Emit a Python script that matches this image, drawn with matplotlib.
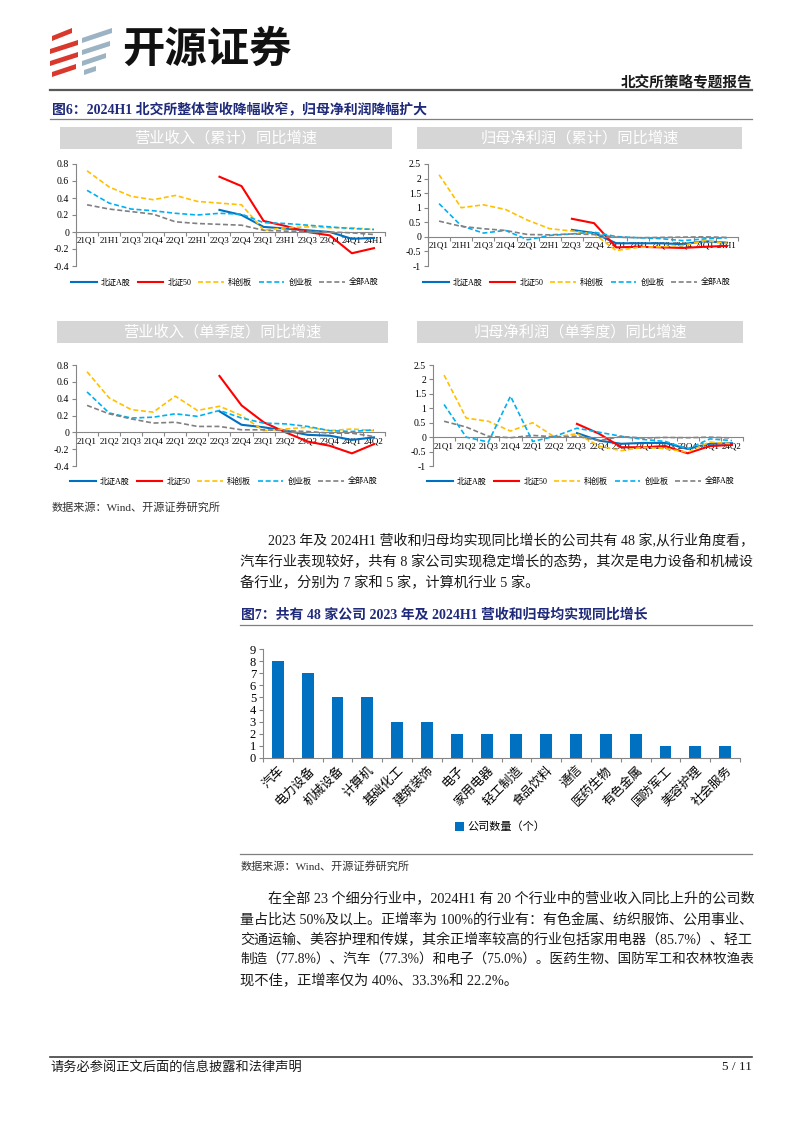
import numpy as np
import matplotlib
matplotlib.use("Agg")
import matplotlib.pyplot as plt
from matplotlib.patches import Rectangle, Polygon

W, H = 802, 1133
FONT = ["Liberation Serif", "Noto Sans CJK SC"]
plt.rcParams["font.family"] = FONT
nan = np.nan

# ---- data ----
cats_cum = ["21Q1", "21H1", "21Q3", "21Q4", "22Q1", "22H1", "22Q3",
            "22Q4", "23Q1", "23H1", "23Q3", "23Q4", "24Q1", "24H1"]
cats_q = ["21Q1", "21Q2", "21Q3", "21Q4", "22Q1", "22Q2", "22Q3",
          "22Q4", "23Q1", "23Q2", "23Q3", "23Q4", "24Q1", "24Q2"]
series_names = ["北证A股", "北证50", "科创板", "创业板", "全部A股"]

# 营业收入（累计）同比增速
rev_cum_bz = [nan] * 6 + [0.26, 0.20, 0.06, 0.04, 0.02, 0.00, -0.08, -0.07]
rev_cum_bz50 = [nan] * 6 + [0.65, 0.54, 0.13, 0.07, 0.00, -0.04, -0.25, -0.19]
rev_cum_kcb = [0.72, 0.53, 0.42, 0.38, 0.43, 0.36, 0.34, 0.32, 0.02, 0.05, 0.06, 0.05, 0.05, 0.03]
rev_cum_cyb = [0.49, 0.34, 0.27, 0.25, 0.22, 0.20, 0.22, 0.21, 0.11, 0.10, 0.08, 0.06, 0.04, 0.03]
rev_cum_all = [0.32, 0.27, 0.24, 0.21, 0.12, 0.10, 0.09, 0.08, 0.02, 0.01, 0.01, 0.00, -0.01, -0.03]

# 归母净利润（累计）同比增速
np_cum_bz = [nan] * 6 + [0.24, 0.13, -0.22, -0.22, -0.22, -0.25, -0.15, -0.20]
np_cum_bz50 = [nan] * 6 + [0.62, 0.47, -0.36, -0.34, -0.36, -0.38, -0.34, -0.31]
np_cum_kcb = [2.13, 1.00, 1.10, 0.94, 0.57, 0.28, 0.20, 0.10, -0.47, -0.36, -0.34, -0.30, -0.13, -0.22]
np_cum_cyb = [1.14, 0.38, 0.13, 0.22, -0.10, 0.05, 0.10, 0.16, 0.01, -0.03, -0.06, -0.13, -0.07, -0.03]
np_cum_all = [0.54, 0.36, 0.28, 0.22, 0.08, 0.07, 0.10, 0.08, -0.01, -0.03, -0.02, -0.01, 0.00, -0.02]

# 营业收入（单季度）同比增速
rev_q_bz = [nan] * 6 + [0.25, 0.09, 0.06, 0.02, -0.03, -0.04, -0.09, -0.06]
rev_q_bz50 = [nan] * 6 + [0.67, 0.32, 0.12, 0.00, -0.11, -0.16, -0.25, -0.14]
rev_q_kcb = [0.72, 0.41, 0.27, 0.24, 0.43, 0.26, 0.31, 0.20, 0.02, 0.04, 0.06, 0.02, 0.04, 0.02]
rev_q_cyb = [0.48, 0.23, 0.17, 0.18, 0.22, 0.19, 0.26, 0.17, 0.11, 0.10, 0.07, 0.02, 0.01, 0.03]
rev_q_all = [0.32, 0.22, 0.16, 0.11, 0.12, 0.07, 0.07, 0.03, 0.03, 0.02, 0.01, -0.01, -0.01, -0.05]

# 归母净利润（单季度）同比增速
np_q_bz = [nan] * 6 + [0.14, -0.12, -0.23, -0.20, -0.20, -0.41, -0.23, -0.21]
np_q_bz50 = [nan] * 6 + [0.46, 0.12, -0.35, -0.35, -0.31, -0.56, -0.31, -0.27]
np_q_kcb = [2.15, 0.66, 0.55, 0.21, 0.50, 0.00, 0.12, -0.31, -0.47, -0.35, -0.40, -0.52, -0.17, -0.23]
np_q_cyb = [1.13, 0.00, -0.17, 1.42, -0.15, 0.03, 0.31, 0.17, 0.03, -0.08, -0.15, -0.41, -0.06, -0.12]
np_q_all = [0.55, 0.35, 0.03, -0.02, 0.06, 0.01, 0.03, -0.12, 0.02, -0.03, -0.01, -0.02, 0.00, -0.03]

# 图7
industries = ["汽车", "电力设备", "机械设备", "计算机", "基础化工", "建筑装饰", "电子", "家用电器",
              "轻工制造", "食品饮料", "通信", "医药生物", "有色金属", "国防军工", "美容护理", "社会服务"]
company_counts = [8, 7, 5, 5, 3, 3, 2, 2, 2, 2, 2, 2, 2, 1, 1, 1]

COLORS = ["#0070C0", "#FF0000", "#FFC000", "#00B0F0", "#808080"]
DASHED = [False, False, True, True, True]
AXC = "#868686"


def rect(x0, y0, x1, y1):
    return [x0 / W, 1 - y1 / H, (x1 - x0) / W, (y1 - y0) / H]


fig = plt.figure(figsize=(W / 100, H / 100), dpi=100)
page = fig.add_axes([0, 0, 1, 1])
page.set_xlim(0, W)
page.set_ylim(H, 0)
page.axis("off")
renderer = fig.canvas.get_renderer()


def body_line(x, y, s, full=True, size=10.3, right=752):
    t = page.text(x, y, s, fontsize=size, va="center", color="#1a1a1a")
    if full:
        w = t.get_window_extent(renderer).width
        t.set_fontsize(size * (right - x) / w)
    return t


# ---- header ----
red_bars = [(52, 36, 72, 28), (50, 49, 78, 40), (50, 61, 78, 52), (52, 72, 76, 64)]
for x0, y0, x1, y1 in red_bars:
    page.add_patch(Polygon([(x0, y0), (x1, y1), (x1, y1 + 5), (x0, y0 + 5)],
                           closed=True, color="#D8392C", lw=0))
blue_bars = [(82, 38, 112, 28), (82, 50, 110, 41), (82, 61, 106, 53), (84, 70, 96, 66)]
for x0, y0, x1, y1 in blue_bars:
    page.add_patch(Polygon([(x0, y0), (x1, y1), (x1, y1 + 5), (x0, y0 + 5)],
                           closed=True, color="#9BB3C2", lw=0))
page.text(122, 50, "开源证券", family="Noto Sans CJK SC", fontweight="bold",
          fontsize=30.5, ha="left", va="center", color="#111111")
page.text(752, 83, "北交所策略专题报告", fontsize=10.5, fontweight="bold",
          ha="right", va="center", color="#1a1a1a")
page.plot([50, 752], [90, 90], color="#595959", lw=1.6)

page.text(52, 110, "图6：2024H1 北交所整体营收降幅收窄，归母净利润降幅扩大",
          fontsize=10, fontweight="bold", color="#1F2A7A", va="center")
page.plot([50, 752], [119, 119], color="#7F7F7F", lw=0.9)


def line_panel(ax_px, box_px, title, cats, series, ylim, yticks, legend_xy):
    x0, y0, x1, y1 = box_px
    page.add_patch(Rectangle((x0, y0), x1 - x0, y1 - y0, color="#D6D6D6", lw=0))
    page.text((x0 + x1) / 2, (y0 + y1) / 2, title, family="Noto Sans CJK SC",
              fontsize=11, color="white", ha="center", va="center")

    ax = fig.add_axes(rect(*ax_px))
    ax.set_facecolor("none")
    x = np.arange(len(cats))
    handles = []
    for vals, name, c, d in zip(series, series_names, COLORS, DASHED):
        if d:
            ln, = ax.plot(x, vals, color=c, lw=1.2, ls=(0, (3, 1.6)), label=name)
        else:
            ln, = ax.plot(x, vals, color=c, lw=1.5, label=name)
        handles.append(ln)
    ax.set_xlim(-0.5, len(cats) - 0.5)
    ax.set_ylim(*ylim)
    ax.set_yticks(yticks)
    ax.set_yticklabels([f"{v:g}" for v in yticks])
    ax.set_xticks(np.arange(-0.5, len(cats), 1))
    ax.set_xticklabels([])
    ax.set_xticks(x, minor=True)
    ax.set_xticklabels(cats, minor=True)
    ax.tick_params(axis="x", which="major", length=3, color=AXC, direction="out")
    ax.tick_params(axis="x", which="minor", length=0, labelsize=6.5, pad=3.5)
    ax.tick_params(axis="y", length=3, color=AXC, labelsize=7, pad=2)
    for s in ["top", "right"]:
        ax.spines[s].set_visible(False)
    ax.spines["bottom"].set_position(("data", 0))
    ax.spines["bottom"].set_color(AXC)
    ax.spines["left"].set_color(AXC)
    ax.spines["bottom"].set_linewidth(0.8)
    ax.spines["left"].set_linewidth(0.8)

    lx, ly = legend_xy
    fig.legend(handles=handles, loc="center", bbox_to_anchor=(lx / W, 1 - ly / H),
               ncol=5, frameon=False, fontsize=5.8, handlelength=3.2,
               handletextpad=0.5, columnspacing=0.85)
    return ax


rev_ticks = [-0.4, -0.2, 0, 0.2, 0.4, 0.6, 0.8]
np_ticks = [-1, -0.5, 0, 0.5, 1, 1.5, 2, 2.5]

line_panel((76, 164, 385, 266), (60, 127, 392, 149), "营业收入（累计）同比增速", cats_cum,
           [rev_cum_bz, rev_cum_bz50, rev_cum_kcb, rev_cum_cyb, rev_cum_all],
           (-0.4, 0.8), rev_ticks, (225, 283))
line_panel((428, 164, 738, 266), (417, 127, 742, 149), "归母净利润（累计）同比增速", cats_cum,
           [np_cum_bz, np_cum_bz50, np_cum_kcb, np_cum_cyb, np_cum_all],
           (-1, 2.5), np_ticks, (577, 283))
line_panel((76, 365, 385, 466), (57, 321, 388, 343), "营业收入（单季度）同比增速", cats_q,
           [rev_q_bz, rev_q_bz50, rev_q_kcb, rev_q_cyb, rev_q_all],
           (-0.4, 0.8), rev_ticks, (224, 482))
line_panel((433, 365, 743, 466), (417, 321, 743, 343), "归母净利润（单季度）同比增速", cats_q,
           [np_q_bz, np_q_bz50, np_q_kcb, np_q_cyb, np_q_all],
           (-1, 2.5), np_ticks, (581, 482))

page.text(52, 507, "数据来源：Wind、开源证券研究所", fontsize=8, color="#333333", va="center")

# ---- paragraph 1 ----
para1 = ["2023 年及 2024H1 营收和归母均实现同比增长的公司共有 48 家,从行业角度看，",
         "汽车行业表现较好，共有 8 家公司实现稳定增长的态势，其次是电力设备和机械设",
         "备行业，分别为 7 家和 5 家，计算机行业 5 家。"]
for i, line in enumerate(para1):
    body_line(268 if i == 0 else 240, 541 + i * 21, line, full=i < len(para1) - 1)

page.text(241, 615, "图7：共有 48 家公司 2023 年及 2024H1 营收和归母均实现同比增长",
          fontsize=10, fontweight="bold", color="#1F2A7A", va="center")
page.plot([240, 752], [625, 625], color="#7F7F7F", lw=0.9)

# ---- bar chart ----
bx = fig.add_axes(rect(263, 649, 740, 758))
bx.set_facecolor("none")
xb = np.arange(len(industries))
bars = bx.bar(xb, company_counts, width=0.4, color="#0070C0", label="公司数量（个）")
bx.set_xlim(-0.5, len(industries) - 0.5)
bx.set_ylim(0, 9)
bx.set_yticks(range(10))
bx.set_xticks(np.arange(-0.5, len(industries), 1))
bx.set_xticklabels([])
bx.set_xticks(xb, minor=True)
bx.set_xticklabels(industries, minor=True, rotation=45, ha="right",
                   rotation_mode="anchor", family="Noto Sans CJK SC")
bx.tick_params(axis="x", which="major", length=3, color=AXC)
bx.tick_params(axis="x", which="minor", length=0, labelsize=9, pad=4)
bx.tick_params(axis="y", length=3, color=AXC, labelsize=9, pad=2)
for s in ["top", "right"]:
    bx.spines[s].set_visible(False)
bx.spines["bottom"].set_color(AXC)
bx.spines["left"].set_color(AXC)
fig.legend(handles=[bars], loc="center", bbox_to_anchor=(500 / W, 1 - 827 / H),
           frameon=False, fontsize=8, handlelength=0.8, handleheight=0.8,
           handletextpad=0.3)

page.plot([240, 752], [854, 854], color="#7F7F7F", lw=0.9)
page.text(241, 866, "数据来源：Wind、开源证券研究所", fontsize=8, color="#333333", va="center")

# ---- paragraph 2 ----
para2 = ["在全部 23 个细分行业中，2024H1 有 20 个行业中的营业收入同比上升的公司数",
         "量占比达 50%及以上。正增率为 100%的行业有：有色金属、纺织服饰、公用事业、",
         "交通运输、美容护理和传媒，其余正增率较高的行业包括家用电器（85.7%）、轻工",
         "制造（77.8%）、汽车（77.3%）和电子（75.0%）。医药生物、国防军工和农林牧渔表",
         "现不佳，正增率仅为 40%、33.3%和 22.2%。"]
for i, line in enumerate(para2):
    body_line(268 if i == 0 else 240, 899 + i * 20.5, line, full=i < len(para2) - 1)

# ---- footer ----
page.plot([50, 752], [1057, 1057], color="#404040", lw=1.2)
page.text(50, 1067, "请务必参阅正文后面的信息披露和法律声明", fontsize=9.5, va="center", color="#1a1a1a")
page.text(752, 1067, "5 / 11", fontsize=9.5, va="center", ha="right", color="#1a1a1a")

fig.savefig("out.png", dpi=100)
